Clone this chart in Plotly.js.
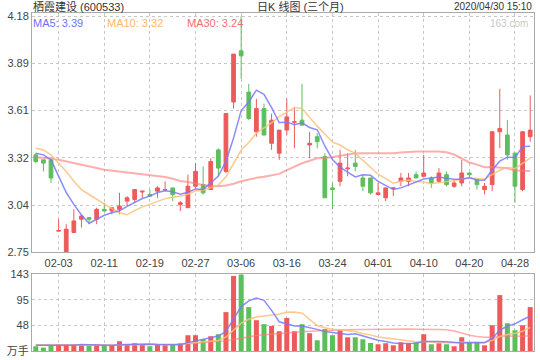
<!DOCTYPE html>
<html><head><meta charset="utf-8">
<script src="https://cdn.plot.ly/plotly-3.0.1.min.js"></script>
<style>html,body{margin:0;padding:0;background:#fff;}#chart{width:540px;height:360px;}</style>
</head><body><div id="chart"></div>
<script>
var dates = ['2020-01-21','2020-01-22','2020-01-23','2020-02-03','2020-02-04','2020-02-05','2020-02-06','2020-02-07','2020-02-10','2020-02-11','2020-02-12','2020-02-13','2020-02-14','2020-02-17','2020-02-18','2020-02-19','2020-02-20','2020-02-21','2020-02-24','2020-02-25','2020-02-26','2020-02-27','2020-02-28','2020-03-02','2020-03-03','2020-03-04','2020-03-05','2020-03-06','2020-03-09','2020-03-10','2020-03-11','2020-03-12','2020-03-13','2020-03-16','2020-03-17','2020-03-18','2020-03-19','2020-03-20','2020-03-23','2020-03-24','2020-03-25','2020-03-26','2020-03-27','2020-03-30','2020-03-31','2020-04-01','2020-04-02','2020-04-03','2020-04-07','2020-04-08','2020-04-09','2020-04-10','2020-04-13','2020-04-14','2020-04-15','2020-04-16','2020-04-17','2020-04-20','2020-04-21','2020-04-22','2020-04-23','2020-04-24','2020-04-27','2020-04-28','2020-04-29','2020-04-30'];

var opens  = [3.34,3.31,3.31,2.878,2.75,2.87,2.95,2.96,2.95,3.01,3.00,3.01,3.06,3.07,3.115,3.10,3.12,3.127,3.14,3.04,3.02,3.15,3.16,3.13,3.37,3.24,3.66,3.97,3.72,3.48,3.62,3.41,3.35,3.49,3.538,3.55,3.40,3.45,3.33,3.14,3.18,3.255,3.29,3.20,3.20,3.10,3.08,3.135,3.18,3.18,3.22,3.21,3.20,3.18,3.22,3.15,3.17,3.23,3.19,3.13,3.16,3.48,3.46,3.35,3.13,3.45];
var highs  = [3.35,3.31,3.31,2.95,2.92,3.01,2.98,2.96,3.02,3.05,3.02,3.11,3.09,3.13,3.12,3.13,3.15,3.18,3.14,3.06,3.22,3.29,3.27,3.32,3.38,3.59,3.95,4.18,3.77,3.68,3.65,3.59,3.49,3.68,3.63,3.77,3.48,3.47,3.35,3.17,3.37,3.35,3.37,3.22,3.20,3.17,3.14,3.14,3.23,3.23,3.24,3.34,3.21,3.26,3.24,3.19,3.31,3.235,3.19,3.17,3.48,3.74,3.55,3.355,3.48,3.70];
var lows   = [3.29,3.24,3.17,2.878,2.75,2.87,2.90,2.92,2.92,3.00,2.98,2.98,3.03,3.05,3.08,3.09,3.08,3.125,3.06,3.00,3.02,3.14,3.10,3.13,3.21,3.23,3.62,3.80,3.55,3.45,3.46,3.37,3.31,3.46,3.38,3.52,3.32,3.38,3.08,3.01,3.15,3.21,3.24,3.12,3.10,3.10,3.06,3.09,3.15,3.15,3.20,3.21,3.14,3.17,3.15,3.14,3.15,3.20,3.13,3.10,3.12,3.38,3.31,3.05,3.12,3.42];
var closes = [3.30,3.29,3.20,2.882,2.89,2.94,2.97,2.95,3.01,3.00,3.02,3.03,3.08,3.13,3.12,3.09,3.14,3.13,3.10,3.05,3.15,3.24,3.11,3.30,3.26,3.59,3.95,3.94,3.56,3.62,3.46,3.55,3.49,3.57,3.54,3.52,3.41,3.42,3.08,3.13,3.29,3.26,3.27,3.15,3.11,3.11,3.14,3.14,3.20,3.20,3.20,3.23,3.17,3.23,3.16,3.17,3.23,3.22,3.16,3.15,3.48,3.50,3.34,3.15,3.48,3.49];

var ma5  = [3.35,3.34,3.31,3.21,3.112,3.040,2.976,2.926,2.952,2.974,2.990,3.002,3.028,3.052,3.076,3.090,3.112,3.122,3.116,3.102,3.114,3.134,3.130,3.170,3.212,3.300,3.442,3.608,3.660,3.732,3.706,3.626,3.536,3.538,3.522,3.534,3.506,3.492,3.394,3.312,3.266,3.236,3.206,3.220,3.216,3.180,3.156,3.130,3.140,3.158,3.176,3.194,3.200,3.206,3.198,3.192,3.192,3.202,3.188,3.186,3.248,3.302,3.326,3.324,3.390,3.392];
var ma10 = [3.38,3.37,3.34,3.29,3.24,3.18,3.13,3.10,3.07,3.043,3.015,2.989,2.977,3.002,3.025,3.040,3.057,3.075,3.084,3.089,3.102,3.123,3.126,3.143,3.157,3.207,3.288,3.369,3.415,3.472,3.503,3.534,3.572,3.599,3.627,3.620,3.566,3.514,3.466,3.417,3.400,3.371,3.349,3.307,3.264,3.223,3.196,3.168,3.180,3.187,3.178,3.175,3.165,3.173,3.178,3.184,3.193,3.201,3.197,3.192,3.220,3.247,3.264,3.256,3.288,3.320];
var ma30 = [3.325,3.322,3.318,3.311,3.300,3.290,3.280,3.270,3.260,3.250,3.245,3.240,3.235,3.230,3.223,3.216,3.212,3.206,3.195,3.182,3.175,3.165,3.158,3.152,3.150,3.155,3.165,3.180,3.192,3.201,3.207,3.215,3.225,3.248,3.270,3.289,3.304,3.319,3.322,3.326,3.335,3.343,3.349,3.350,3.349,3.350,3.350,3.350,3.354,3.359,3.360,3.360,3.362,3.360,3.356,3.342,3.318,3.294,3.281,3.265,3.266,3.264,3.259,3.245,3.243,3.242];

var volumes = [8.8,6.3,10.6,12.5,12.5,12.5,11.2,9.3,12.5,9.3,9.3,18.1,12.5,14.4,11.8,8.8,12.5,10.6,11.2,14.4,29.3,29.3,21.8,27.4,31.1,72.2,139.3,142.0,81.5,57.2,49.8,46.6,36.7,61.5,36.7,49.8,33.0,19.9,41.0,29.3,38.6,25.5,25.5,21.8,14.9,12.5,14.4,10.6,16.2,14.4,16.2,31.1,12.5,14.4,12.5,8.8,25.5,16.2,16.2,10.6,47.9,103.8,51.6,38.6,47.9,81.5];
var volMa5  = [10.5,10.3,10.2,10.3,10.14,10.88,11.86,11.6,11.6,10.96,10.32,11.7,12.34,12.72,13.22,13.12,12.0,11.62,10.98,11.5,15.6,18.96,21.2,24.44,27.78,36.36,58.36,82.4,93.22,98.44,93.96,75.42,54.36,50.36,46.26,46.26,43.54,40.18,36.08,34.6,32.36,30.86,31.98,28.14,25.26,20.04,17.82,14.84,13.72,13.62,14.36,17.7,18.08,17.72,17.34,15.86,14.74,15.48,15.84,15.46,23.28,38.94,46.02,50.5,57.96,64.68];
var volMa10 = [11.5,11.4,11.2,11.0,10.8,10.7,10.6,10.6,10.6,10.55,10.6,11.78,11.97,12.16,12.09,11.72,11.85,11.98,11.85,12.36,14.36,15.48,16.41,17.71,19.64,25.98,38.66,51.8,58.83,63.11,65.16,66.89,68.38,71.79,72.35,70.11,59.48,47.27,43.22,40.43,39.31,37.2,36.08,32.11,29.93,26.2,24.34,23.41,20.93,19.44,17.2,17.76,16.46,15.72,15.48,15.11,16.22,16.78,16.78,16.4,19.57,26.84,30.75,33.17,36.71,43.98];
var volMa30 = [10.6,10.6,10.6,10.7,10.7,10.8,10.8,10.9,10.9,11.0,11.1,11.3,11.4,11.5,11.6,11.7,11.9,12.0,12.2,12.5,13.5,14.5,15.3,16.2,17.2,18.8,21.5,24.0,26.4,28.67,30.04,31.38,32.25,33.89,34.69,35.94,36.66,37.02,37.97,38.63,39.61,39.86,40.29,40.54,40.64,40.76,40.83,40.83,40.99,40.99,40.56,40.62,40.31,39.87,39.25,37.14,33.35,29.15,26.98,25.42,25.36,27.27,27.76,27.0,27.37,28.43];

var tickDates  = ['2020-02-03','2020-02-11','2020-02-19','2020-02-27','2020-03-06','2020-03-16','2020-03-24','2020-04-01','2020-04-10','2020-04-20','2020-04-28'];
var tickLabels = ['02-03','02-11','02-19','02-27','03-06','03-16','03-24','04-01','04-10','04-20','04-28'];
var priceTicks     = [2.75,3.036,3.322,3.608,3.894,4.18];
var priceTickText  = ['2.75','3.04','3.32','3.61','3.89','4.18'];
var volTicks       = [0,47.67,95.33,143];
var volTickText    = ['万手','48','95','143'];

var RED = '#ee5a5a', GREEN = '#5cbf5c';
var C5 = 'rgba(120,120,255,0.85)', C10 = 'rgba(255,190,120,0.85)', C30 = 'rgba(255,120,120,0.6)';

var volColors = closes.map(function(c, i){ return c >= opens[i] ? RED : GREEN; });

var traces = [
  {type:'candlestick', x:dates, open:opens, high:highs, low:lows, close:closes, xaxis:'x', yaxis:'y',
   increasing:{line:{color:RED,width:1}, fillcolor:RED},
   decreasing:{line:{color:GREEN,width:1}, fillcolor:GREEN},
   whiskerwidth:0, hoverinfo:'skip'},
  {type:'scatter', mode:'lines', x:dates, y:ma30, xaxis:'x', yaxis:'y', line:{color:C30,width:2}, hoverinfo:'skip'},
  {type:'scatter', mode:'lines', x:dates, y:ma10, xaxis:'x', yaxis:'y', line:{color:C10,width:1.5}, hoverinfo:'skip'},
  {type:'scatter', mode:'lines', x:dates, y:ma5, xaxis:'x', yaxis:'y', line:{color:C5,width:1.5}, hoverinfo:'skip'},
  {type:'bar', x:dates, y:volumes, xaxis:'x2', yaxis:'y2', marker:{color:volColors, line:{width:0}}, hoverinfo:'skip'},
  {type:'scatter', mode:'lines', x:dates, y:volMa30, xaxis:'x2', yaxis:'y2', line:{color:C30,width:1.5}, hoverinfo:'skip'},
  {type:'scatter', mode:'lines', x:dates, y:volMa10, xaxis:'x2', yaxis:'y2', line:{color:C10,width:1.5}, hoverinfo:'skip'},
  {type:'scatter', mode:'lines', x:dates, y:volMa5, xaxis:'x2', yaxis:'y2', line:{color:C5,width:1.5}, hoverinfo:'skip'}
];

var axisCommon = {showline:true, mirror:true, linecolor:'#aaa', linewidth:1, ticks:'',
  showgrid:true, gridcolor:'#c8c8c8', griddash:'3px,3px', gridwidth:1, zeroline:false, fixedrange:true,
  tickfont:{size:11, color:'#444'}};
function ax(extra){ var o = {}; for (var k in axisCommon) o[k] = axisCommon[k]; for (var k2 in extra) o[k2] = extra[k2]; return o; }

var FONT = 'Liberation Sans, Arial, Noto Sans CJK SC, sans-serif';
function px2x(p){ return (p - 32) / 502; }
function px2y(p){ return (351 - p) / 338; }

var annotations = [
  {text:'栖霞建设 (600533)', x:px2x(32), y:px2y(6), xanchor:'left', yanchor:'middle', font:{size:11,color:'#333',family:FONT}},
  {text:'日K 线图 (三个月)', x:px2x(256), y:px2y(6), xanchor:'left', yanchor:'middle', font:{size:11,color:'#333',family:FONT}},
  {text:'2020/04/30 15:10', x:px2x(533), y:px2y(6), xanchor:'right', yanchor:'middle', font:{size:10,color:'#333',family:FONT}},
  {text:'163.com', x:px2x(529), y:px2y(23), xanchor:'right', yanchor:'middle', font:{size:10,color:'#c8c8c8',family:FONT}},
  {text:'MA5: ' + ma5[ma5.length-1].toFixed(2), x:px2x(32), y:px2y(23), xanchor:'left', yanchor:'middle', font:{size:11,color:'#7070ff',family:FONT}},
  {text:'MA10: ' + ma10[ma10.length-1].toFixed(2), x:px2x(106), y:px2y(23), xanchor:'left', yanchor:'middle', font:{size:11,color:'#ffb866',family:FONT}},
  {text:'MA30: ' + ma30[ma30.length-1].toFixed(2), x:px2x(186), y:px2y(23), xanchor:'left', yanchor:'middle', font:{size:11,color:'#f07070',family:FONT}}
].map(function(a){ a.xref='paper'; a.yref='paper'; a.showarrow=false; a.borderpad=0; return a; });

var layout = {
  width:540, height:360, margin:{l:32, r:6, t:13, b:9, pad:0},
  paper_bgcolor:'#ffffff', plot_bgcolor:'#ffffff', showlegend:false,
  font:{family:FONT, size:11, color:'#444'},
  bargap:0.34,
  xaxis: ax({type:'category', range:[-0.5, 65.5], anchor:'y', domain:[0,1], tickvals:tickDates, ticktext:tickLabels, rangeslider:{visible:false}}),
  yaxis: ax({domain:[0.292,1], range:[2.75,4.199], anchor:'x', tickvals:priceTicks, ticktext:priceTickText}),
  xaxis2: ax({type:'category', range:[-0.5, 65.5], anchor:'y2', domain:[0,1], tickvals:tickDates, showticklabels:false, rangeslider:{visible:false}}),
  yaxis2: ax({domain:[0,0.2278], range:[0,143], anchor:'x2', tickvals:volTicks, ticktext:volTickText}),
  annotations: annotations
};

Plotly.newPlot('chart', traces, layout, {displayModeBar:false, staticPlot:true});
</script>
</body></html>
